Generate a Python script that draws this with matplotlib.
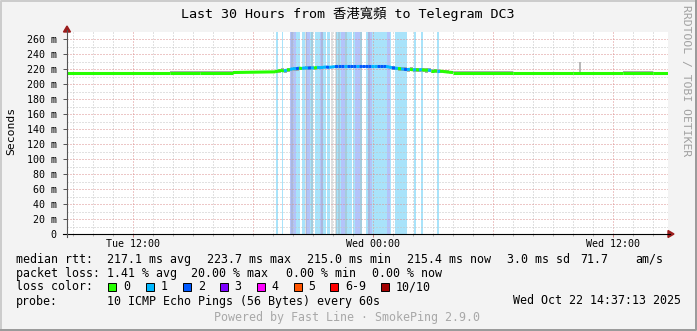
import numpy as np
import matplotlib.pyplot as plt
from matplotlib.lines import Line2D
from matplotlib.patches import Rectangle, Polygon

# ---- data (time in hours since Tue 00:00, values in ms) ----
t_before = [8.7, 13.85, 15.35, 17.0]
t_fine = list(np.round(np.arange(19.1, 27.86, 0.15), 2))   # 59 samples, 3 px apart
t_after = [28.0, 31.0, 34.0, 36.5, 38.0, 38.75]
t_hours = t_before + t_fine + t_after

median_ms = (
    [215.6, 215.6, 215.6, 215.6]
    + [216.5, 217.5, 218.5, 217.5, 219.0, 219.5,
       221.0, 220.5, 221.5, 221.0, 222.0,
       221.5, 222.0, 221.5, 222.5, 222.0,
       222.5, 223.0, 222.5, 223.0, 223.5,
       223.7, 223.7, 223.7, 223.7, 223.7, 223.7, 223.7, 223.7, 223.7,
       223.7, 223.7, 223.7, 223.7, 223.7, 223.7, 223.7, 223.7,
       223.0, 222.0, 221.5, 221.0, 220.5,
       220.0, 219.5, 220.0, 219.0, 219.5,
       219.0, 219.5, 218.5, 219.0, 218.0,
       218.0, 217.5, 217.5, 217.0, 216.5, 216.0]
    + [215.6, 215.6, 215.6, 215.6, 215.6, 215.6]
)
median_loss = (
    [0, 0, 0, 0]
    + [0, 0, 0, 1, 0, 1,
       1, 2, 0, 1, 1,
       2, 1, 0, 1, 1,
       1, 2, 1, 1, 2,
       2, 2, 1, 2, 2, 2, 1, 2, 2,
       2, 2, 1, 1, 2, 2, 2, 1,
       1, 2, 1, 0, 1,
       2, 1, 0, 1, 0,
       1, 0, 0, 1, 0,
       0, 1, 0, 0, 0, 0]
    + [0, 0, 0, 0, 0, 0]
)
smoke_hi = (
    [216.2, 217.8, 218.2, 218.2]
    + [219.0, 220.0, 221.0, 220.5, 221.5, 222.0,
       223.0, 223.0, 223.5, 223.5, 224.0,
       224.0, 224.0, 223.5, 224.5, 224.0,
       224.5, 224.5, 224.5, 224.5, 224.5,
       224.5, 224.5, 224.5, 224.5, 224.5, 224.5, 224.5, 224.5, 224.5,
       224.5, 224.5, 224.5, 224.5, 224.5, 224.5, 224.5, 224.5,
       224.5, 224.0, 223.5, 223.0, 223.0,
       222.5, 222.0, 222.5, 221.5, 222.0,
       221.5, 221.5, 221.0, 221.0, 220.5,
       220.0, 220.0, 219.5, 219.0, 218.5, 218.0]
    + [217.8, 216.2, 216.2, 217.8, 216.8, 216.2]
)
smoke_lo = (
    [214.8, 214.8, 214.8, 214.8]
    + [215.0, 215.0, 216.0, 215.5, 216.5, 217.0,
       218.0, 218.0, 219.0, 218.5, 219.5,
       219.5, 220.0, 219.5, 220.5, 220.5,
       221.0, 221.5, 221.0, 221.5, 222.0,
       223.0, 223.0, 223.0, 223.0, 223.0, 223.0, 223.0, 223.0, 223.0,
       223.0, 223.0, 223.0, 223.0, 223.0, 223.0, 223.0, 223.0,
       221.0, 219.5, 218.5, 218.0, 217.5,
       217.0, 216.5, 217.0, 216.5, 216.5,
       216.0, 216.5, 215.5, 216.0, 215.5,
       215.5, 215.5, 215.0, 215.0, 215.0, 214.8]
    + [214.8, 214.8, 214.8, 214.8, 214.8, 214.8]
)
spike_hours = [34.35]
spike_top = [229.0]

loss_start = [19.15, 19.45, 20.15, 20.45, 20.85, 21.1, 21.5, 21.7, 22.15, 22.6, 23.0,
              23.35, 23.65, 23.95, 24.85, 25.1, 26.05, 26.4, 27.2,
              19.85, 20.65, 21.35, 22.4, 23.1, 23.75, 24.7]
loss_end = [19.25, 19.5, 20.35, 20.6, 21.0, 21.35, 21.65, 21.85, 22.4, 22.95, 23.1,
            23.45, 23.75, 24.7, 24.9, 25.7, 26.15, 26.5, 27.3,
            20.15, 20.85, 21.5, 22.6, 23.35, 23.95, 24.85]
loss_level = [1] * 19 + [2] * 7
tall_smoke = [19.9, 20.6, 20.9, 21.4, 21.9, 22.1, 22.25, 22.6, 23.35, 23.75]

loss_colors = ["#26ff00", "#00b8ff", "#0059ff", "#7e00ff", "#ff00ff", "#ff5500",
               "#ff0000", "#a10000"]
loss_labels = ["0", "1", "2", "3", "4", "5", "6-9", "10/10"]
loss_bg = {1: "#a9e3fa", 2: "#b3c4fa"}

W, H = 697, 331
MONO = "DejaVu Sans Mono"


def fx(x):
    return x / W


def fy(y):
    return 1 - y / H


fig = plt.figure(figsize=(W / 100, H / 100), dpi=100, facecolor="#f3f3f3")
ax = fig.add_axes([fx(67), fy(234), 601 / W, 202 / H])
ax.set_facecolor("white")
ax.set_xlim(8.7, 38.75)
ax.set_ylim(0, 269.7)
for s in ax.spines.values():
    s.set_visible(False)

# loss background bars
for a, b, lv in zip(loss_start, loss_end, loss_level):
    ax.axvspan(a, b, color=loss_bg[lv], lw=0, zorder=1)
for h in tall_smoke:
    ax.axvspan(h, h + 0.1, color="#9a9a9a", alpha=0.3, lw=0, zorder=1.1)

# grid (dotted)
for h in range(9, 39):
    ax.axvline(h, color="#dc9090" if h % 6 == 0 else "#c4c4c4", lw=0.72,
               ls=(0, (1, 2)), zorder=1.5)
for v in range(10, 270, 10):
    ax.axhline(v, color="#dc9090" if v % 20 == 0 else "#c4c4c4", lw=0.72,
               ls=(0, (1, 2)), zorder=1.5)

# smoke
ax.fill_between(t_hours, smoke_lo, smoke_hi, step="post", color="#acacac", lw=0, zorder=2)
ax.vlines(spike_hours, 215, spike_top, color="#acacac", lw=1.2, zorder=2)

# median line coloured by loss
for i in range(len(t_hours) - 1):
    ax.plot(t_hours[i:i + 2], median_ms[i:i + 2], color=loss_colors[median_loss[i]],
            lw=2.2, solid_capstyle="butt", zorder=3)

# ticks
ax.set_yticks(range(0, 270, 20),
              ["0"] + ["%d m" % v for v in range(20, 270, 20)])
ax.set_xticks([12, 24, 36], ["Tue 12:00", "Wed 00:00", "Wed 12:00"])
ax.set_xticks(range(9, 39), minor=True)
ax.tick_params(axis="y", length=3, width=0.7, color="#555555", pad=4.5, labelsize=7.2)
ax.tick_params(axis="x", length=2.5, width=0.7, color="#cc8080", pad=1, labelsize=7.2)
ax.tick_params(axis="x", which="minor", length=1.5, width=0.6, color="#aaaaaa")
for lab in ax.get_xticklabels() + ax.get_yticklabels():
    lab.set_family(MONO)

# axes lines and arrows
fig.add_artist(Line2D([fx(63), fx(670)], [fy(234), fy(234)], color="black", lw=0.8))
fig.add_artist(Line2D([fx(67), fx(67)], [fy(237), fy(30)], color="#555555", lw=0.8))
fig.add_artist(Polygon([(fx(668), fy(230.5)), (fx(668), fy(237.5)), (fx(674), fy(234))],
                       closed=True, color="#9b1c1c", transform=fig.transFigure))
fig.add_artist(Polygon([(fx(63.5), fy(32)), (fx(70.5), fy(32)), (fx(67), fy(26))],
                       closed=True, color="#9b1c1c", transform=fig.transFigure))

# frame
fig.add_artist(Line2D([fx(1), fx(1), fx(696)], [fy(330), fy(1), fy(1)], color="#cbcbcb", lw=1.4))
fig.add_artist(Line2D([fx(1), fx(696), fx(696)], [fy(330), fy(330), fy(1)], color="#999999", lw=1.4))

# titles
fig.text(fx(347.5), fy(14), "Last 30 Hours from 香港寬頻 to Telegram DC3",
         family=[MONO, "Noto Sans CJK TC"], fontsize=9.6, ha="center", va="center")
fig.text(fx(11), fy(131), "Seconds", family=MONO, fontsize=8.2, rotation=90,
         ha="center", va="center")
fig.text(fx(686), fy(81), "RRDTOOL / TOBI OETIKER", family=MONO, fontsize=8.2,
         rotation=270, ha="center", va="center", color="#a0a0a0")

# legend
rows = [
    (259.3, [(16, "median rtt:"), (107.3, "217.1 ms avg"), (207.3, "223.7 ms max"),
             (306.7, "215.0 ms min"), (407.3, "215.4 ms now"), (507.3, "3.0 ms sd"),
             (580, "71.7"), (635, "am/s")]),
    (273.3, [(16, "packet loss:"), (107.3, "1.41 % avg"), (191.5, "20.00 % max"),
             (286, "0.00 % min"), (372.5, "0.00 % now")]),
    (287, [(16, "loss color:")]),
    (301, [(16, "probe:"), (107.3, "10 ICMP Echo Pings (56 Bytes) every 60s")]),
]
for y, items in rows:
    for x, s in items:
        fig.text(fx(x), fy(y), s, family=MONO, fontsize=8.4, ha="left", va="center")
fig.text(fx(681), fy(301), "Wed Oct 22 14:37:13 2025", family=MONO, fontsize=8.4,
         ha="right", va="center")

swatch_x = [108, 145.7, 182.7, 219.7, 256.7, 293.7, 330.3, 381]
for x, c, lab in zip(swatch_x, loss_colors, loss_labels):
    fig.add_artist(Rectangle((fx(x), fy(291)), 8 / W, 8 / H, facecolor=c,
                             edgecolor="black", lw=0.7, transform=fig.transFigure))
    fig.text(fx(x + 15), fy(287), lab, family=MONO, fontsize=8.4, ha="left", va="center")

fig.text(fx(347.5), fy(318), "Powered by Fast Line · SmokePing 2.9.0", family=MONO,
         fontsize=8.4, ha="center", va="center", color="#a8a8a8")

fig.savefig("out.png", dpi=100, facecolor=fig.get_facecolor())
